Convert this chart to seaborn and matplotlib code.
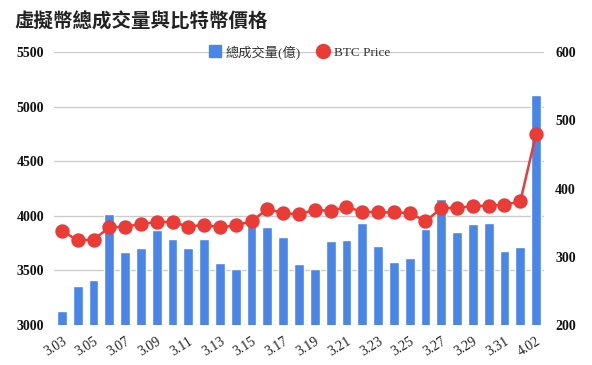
import matplotlib
matplotlib.use("Agg")
import matplotlib.pyplot as plt
from matplotlib.lines import Line2D
import matplotlib.transforms as mtransforms
import seaborn as sns
import pandas as pd

dates = ["3.03", "3.04", "3.05", "3.06", "3.07", "3.08", "3.09", "3.10", "3.11", "3.12",
         "3.13", "3.14", "3.15", "3.16", "3.17", "3.18", "3.19", "3.20", "3.21", "3.22",
         "3.23", "3.24", "3.25", "3.26", "3.27", "3.28", "3.29", "3.30", "3.31", "4.01", "4.02"]
volume = [3125, 3355, 3410, 4015, 3670, 3705, 3870, 3790, 3705, 3790,
          3565, 3510, 3905, 3900, 3805, 3560, 3510, 3770, 3780, 3935,
          3725, 3575, 3615, 3880, 4155, 3855, 3925, 3935, 3680, 3715, 5105]
btc_price = [338, 324, 325, 343, 344, 348, 351, 351, 344, 347,
             343, 346, 352, 370, 364, 362, 369, 367, 373, 366,
             365, 365, 364, 352, 371, 372, 374, 375, 376, 381, 480]
left_ticks = [3000, 3500, 4000, 4500, 5000, 5500]
right_ticks = [200, 300, 400, 500, 600]
title = "虛擬幣總成交量與比特幣價格"
bar_label = "總成交量(億)"
line_label = "BTC Price"

BLUE = "#4A86E8"
RED = "#EA3B36"

sns.set_style("white")
plt.rcParams["font.family"] = ["Liberation Serif", "Noto Sans CJK TC"]

df = pd.DataFrame({"date": dates, "volume": volume, "price": btc_price})

fig = plt.figure(figsize=(5.92, 3.65), dpi=100)
ax = fig.add_axes([54 / 592, 1 - 325 / 365, 490 / 592, 273 / 365])

sns.barplot(data=df, x="date", y="volume", color=BLUE, saturation=1, width=0.62,
            ax=ax, zorder=2)
ax.set_ylim(3000, 5500)
ax.set_yticks(left_ticks)
ax.yaxis.grid(True, color="#cccccc", linewidth=1, zorder=0)
ax.set_axisbelow(True)
for s in ax.spines.values():
    s.set_visible(False)
ax.set_xlabel("")
ax.set_ylabel("")

ax2 = ax.twinx()
sns.pointplot(data=df, x="date", y="price", color=RED, ax=ax2,
              markersize=9, linewidth=1.8, zorder=3)
ax2.set_ylim(200, 600)
ax2.set_yticks(right_ticks)
ax2.grid(False)
for s in ax2.spines.values():
    s.set_visible(False)
ax2.set_xlabel("")
ax2.set_ylabel("")
ax.set_xlim(-0.5, len(dates) - 0.5)
ax2.set_xlim(-0.5, len(dates) - 0.5)

ax.set_xticks(range(0, len(dates), 2))
ax.set_xticklabels(dates[::2], rotation=32, ha="right", rotation_mode="anchor",
                   fontsize=10, color="#222222")
offset = mtransforms.ScaledTranslation(6 / 100, 0, fig.dpi_scale_trans)
for lab in ax.get_xticklabels():
    lab.set_transform(lab.get_transform() + offset)
ax.tick_params(axis="x", length=0, pad=7)
ax.tick_params(axis="y", length=0, pad=7)
ax2.tick_params(axis="y", length=0, pad=8)
for lab in ax.get_yticklabels() + ax2.get_yticklabels():
    lab.set_fontweight("bold")
    lab.set_fontsize(10)
    lab.set_color("#111111")

handles = [Line2D([], [], marker="s", linestyle="none", color=BLUE, markersize=9),
           Line2D([], [], marker="o", linestyle="none", color=RED, markersize=10)]
leg = ax.legend(handles, [bar_label, line_label], loc="center", bbox_to_anchor=(0.5, 1.0),
                ncol=2, frameon=False, fontsize=9.5, handletextpad=0.3,
                columnspacing=1.2, handlelength=1.0)
for t in leg.get_texts():
    t.set_color("#333333")

fig.text(14 / 592, 1 - 22 / 365, title, fontsize=14, fontweight="bold",
         family=["Noto Sans CJK TC"], va="center", ha="left", color="#222222")

fig.savefig("out.png", dpi=100)
